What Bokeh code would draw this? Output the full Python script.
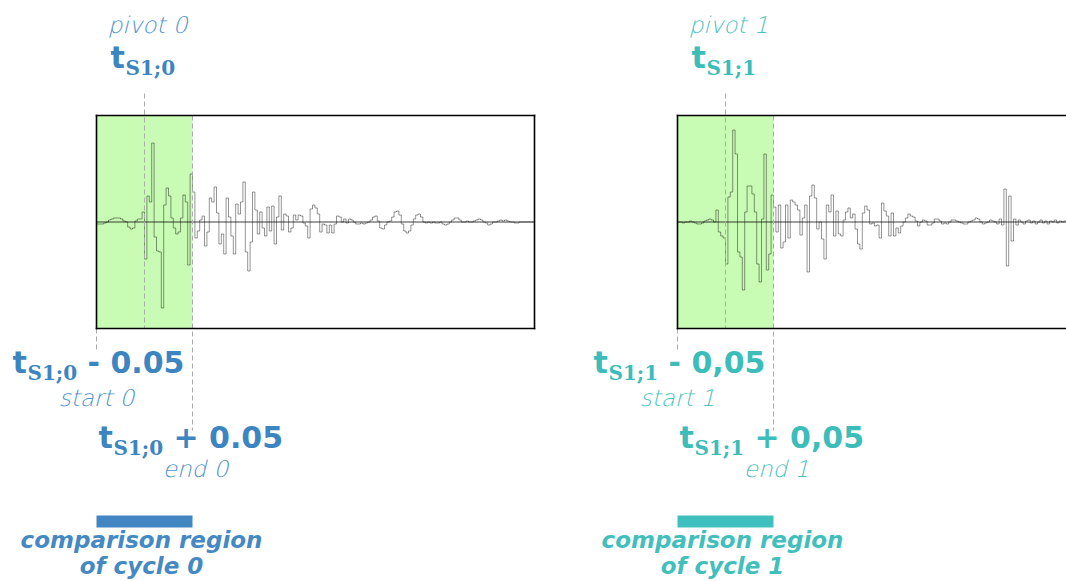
from bokeh.plotting import figure
from bokeh.models import Range1d
from bokeh.core.properties import value
from bokeh.embed import file_html
from bokeh.resources import INLINE

# ---------------- data ----------------
DT = 0.0025            # sampling step of the recorded signals (s)
HALF_WINDOW = 0.05     # comparison half-window around each pivot (s)
PANEL_DURATION = 0.45625
FULL_SCALE = 106.5     # amplitude at the border of each box
PIVOTS = [0.05, 0.05]  # t_S1;k inside each cycle's own time axis (s)
CYCLES = ["0", "1"]
OFFSET_TEXT = ["0.05", "0,05"]

WAVE_0 = [
    -2, -2, -2, -1, 0, 2, 3, 4, 4, 4, 3, 1, 0, -5, -7, -6, 1, 3, 3,
    10, -37, 26, 20, 79, -15, -29, -30, -86, 17, 34, 26, 4, -6, -12, -10, 4, 27, 20, -43, 48, 30,
    -16, -9, 2, 6, -24, -10, 24, 20, 35, 9, -22, -12, -32, 24, 5, -14, -32, 18, 8, 20, 40, -30, -49, -20, 30, 12,
    -12, 10, -6, -14, 15, -9, 16, -22, 5, 26, -8, 8, 6, -10, -6, 7, 2, 7, 6, -1, -4, -16, 13, 17, 14, 8, -10, -2, -3, -11, -3, -11, -2,
    6, 5, 0, 3, -1, 3, 2, 0, -2, -2, -1, -2, -1, 0, 2, 5, 6, 1, -6, -7, -3, 0, 1, 5, 10, 11, 7, -2, -9, -11,
    -9, -3, 3, 7, 8, 5, 0, -1, 0, -1, 0, -1, -1, 0, -2, -3, -2, 0, 2, 4,
    4, 2, 0, 0, 1, 0, 0, 1, 2, 3, 2, 0, -1, -3, -2, 0, 0, 1, 2, 1, 2, 1, 0, 0, -1, -1, 0, 0, 0, 0, 0, 0, 0,
]

WAVE_1 = [
    0, 0, -1, 0, 0, 1, 0, -1, -2, -2, -1, 1, 2, 3, 2, 0,
    12, -10, -14, -16, -42, 25, 30, 92, 68, -30, -35, -68, 10, 36, 36, 28, 10, -42, -60, 3, 68, -48, -32, 27, 15,
    -10, 17, -26, -20, 17, -16, 22, 20, 17, 12, -13, 4, 17, -50, 26, 37, 24, -7, 0, -17, -37, 17, 10, 27, -14, 11, -12, -14,
    2, 10, 14, 4, 8, -7, -22, -27, 9, 16, 12, -2, -1, -4, -3, -16, 19, 11, 6, -14, 9, -14, -6, -11, -4, 0, 4, 8, 6, 5, 1,
    -4, 0, 2, 1, -3, -3, -1, 3, 3, 1, -2, -1, -2, 0, 2, 2, 1, 0, -1, -2, -2, 0, 1, 2, 4, 3, 0, -2, -1, 0, 2, 1, 0, -2, 3, -3,
    33, -44, 26, -19, 3, -3, 2, 0, -2, 1, 2, -1, 1, -2, 0, 2, -1, 1, -2, 1, 0, 2, -1, 1,
    0, 1, -1, 0, 1, -2, 0, 1, -1, 0, 2, -1, 0, 1, -1, 0, 0, 1, -1, 0, 1, 0, 0,
]
WAVES = [WAVE_0, WAVE_1]

# ---------------- styling ----------------
BOLD_COL = ["#3d85c1", "#3dbdb9"]
LIGHT_COL = ["#4d93cf", "#4cc2be"]
BAR_COL = ["#4286c1", "#40bfbf"]
CAP_COL = ["#4589c4", "#42bfbc"]
GREEN = "#c8fbb4"
DASH_COL = "#ababab"

SANS = value("DejaVu Sans")
SERIF = value("DejaVu Serif")
LIGHT = value("'DejaVu Sans Light', 'DejaVu Sans ExtraLight', 'DejaVu Sans'")

W, H = 1066, 581
PX_PER_S = 960.0
BOX_LEFT = [96, 677]      # picture x of each box's left edge
ZERO_Y = 221.5            # picture y of amplitude 0
BASELINE_FIX = 0.38       # renderer puts the baseline this many em lower


def xr(box_left):
    return Range1d(start=-box_left / PX_PER_S, end=(W - box_left) / PX_PER_S)


p = figure(width=W, height=H, output_backend="svg", toolbar_location=None,
           x_range=xr(BOX_LEFT[0]),
           y_range=Range1d(start=ZERO_Y - H, end=ZERO_Y),
           x_axis_location=None, y_axis_location=None,
           min_border=0, min_border_left=0, min_border_right=0,
           min_border_top=0, min_border_bottom=0,
           outline_line_color=None, background_fill_color="white",
           border_fill_color="white")
p.grid.visible = False
p.extra_x_ranges = {"c1": xr(BOX_LEFT[1])}
p.extra_y_ranges = {"px": Range1d(start=H, end=0)}


def txt(rn, x, y, s, size, style, color, font, dx=0, align="left"):
    y = y - BASELINE_FIX * size
    p.text(x=[x], y=[y], text=[s], x_range_name=rn, y_range_name="px",
           text_font=font, text_font_size=f"{size}px", text_font_style=style,
           text_color=color, text_align=align, text_baseline="alphabetic",
           x_offset=dx)


def t_label(rn, x, base, dx, k, rest, col):
    txt(rn, x, base, "t", 30, "bold", col, SANS, dx)
    txt(rn, x, base + 7, "S1;" + CYCLES[k], 20, "bold", col, SERIF, dx + 15)
    if rest:
        txt(rn, x, base, rest, 30, "bold", col, SANS, dx + 75)


for k in range(2):
    rn = "default" if k == 0 else "c1"
    piv = PIVOTS[k]
    start = piv - HALF_WINDOW
    end = piv + HALF_WINDOW
    wave = WAVES[k]
    tt = [i * DT for i in range(len(wave))]

    # comparison window
    p.quad(left=[start], right=[end], bottom=[-FULL_SCALE], top=[FULL_SCALE],
           fill_color=GREEN, line_color=None, x_range_name=rn)
    # signal
    p.step(x=tt, y=wave, mode="after", line_color="black", line_alpha=0.42,
           line_width=1, x_range_name=rn)
    # zero line
    p.segment(x0=[0], y0=[0], x1=[PANEL_DURATION], y1=[0], line_color="black",
              line_alpha=0.75, line_width=1, x_range_name=rn)
    # dashed guides
    p.segment(x0=[piv, end, start], x1=[piv, end, start],
              y0=[93, 115, 328], y1=[328, 430, 352],
              line_color=DASH_COL, line_dash="5 3", line_width=1,
              x_range_name=rn, y_range_name="px")
    # box borders
    p.segment(x0=[0, 0, 0, PANEL_DURATION], x1=[PANEL_DURATION, PANEL_DURATION, 0, PANEL_DURATION],
              y0=[FULL_SCALE, -FULL_SCALE, -FULL_SCALE, -FULL_SCALE],
              y1=[FULL_SCALE, -FULL_SCALE, FULL_SCALE, FULL_SCALE],
              line_color="black", line_width=1.6, line_cap="square", x_range_name=rn)
    # region bar
    p.quad(left=[start], right=[end], top=[515], bottom=[527], fill_color=BAR_COL[k],
           line_color=None, x_range_name=rn, y_range_name="px")

    bc = BOLD_COL[k]
    lc = LIGHT_COL[k]
    # pivot labels
    txt(rn, piv, 33, "pivot " + CYCLES[k], 23, "italic", lc, LIGHT, 3, "center")
    t_label(rn, piv, 68, -34, k, None, bc)
    # start labels
    t_label(rn, start, 373, -84, k, "- " + OFFSET_TEXT[k], bc)
    txt(rn, start, 406, "start " + CYCLES[k], 23, "italic", lc, LIGHT, 0, "center")
    # end labels
    t_label(rn, end, 448, -94, k, "+ " + OFFSET_TEXT[k], bc)
    txt(rn, end, 477, "end " + CYCLES[k], 23, "italic", lc, LIGHT, 3, "center")
    # caption
    txt(rn, piv, 548, "comparison region", 23, "bold italic", CAP_COL[k], SANS, -3, "center")
    txt(rn, piv, 574, "of cycle " + CYCLES[k], 23, "bold italic", CAP_COL[k], SANS, -3, "center")

open("out.html", "w").write(file_html(p, INLINE))
